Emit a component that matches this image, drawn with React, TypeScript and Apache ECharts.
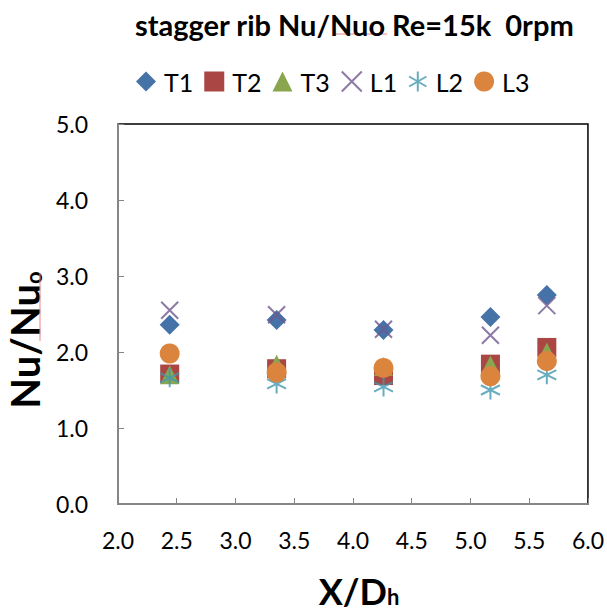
import React, { useEffect, useRef } from "react";
import * as echarts from "echarts";

// X/Dh stations shared by every series
const xStations = [2.44, 3.35, 4.26, 5.17, 5.65];

// Nu/Nuo per series at each station
const t1Values = [2.36, 2.42, 2.29, 2.46, 2.75];
const t2Values = [1.71, 1.78, 1.69, 1.84, 2.06];
const t3Values = [1.7, 1.84, 1.81, 1.83, 2.0];
const l1Values = [2.55, 2.49, 2.3, 2.22, 2.61];
const l2Values = [1.66, 1.58, 1.54, 1.5, 1.7];
const l3Values = [1.98, 1.73, 1.79, 1.68, 1.88];

const seriesNames = ["T1", "T2", "T3", "L1", "L2", "L3"];
const seriesValues = [t1Values, t2Values, t3Values, l1Values, l2Values, l3Values];
const seriesColors = ["#4572A7", "#AA4643", "#89A54E", "#71588F", "#4198AF", "#DB843D"];

const titleText = "stagger rib Nu/Nuo Re=15k  0rpm";

const FONT = "Lato, 'Open Sans', sans-serif";

const crossPath = "path://M0,0L10,10M10,0L0,10";
const starPath = "path://M5,0L5,10M0.67,2.5L9.33,7.5M0.67,7.5L9.33,2.5";

const symbols = ["diamond", "rect", "triangle", crossPath, starPath, "circle"];
const symbolSizes = [20, 19, 19, 17, 19, 20];

export default function App() {
  const ref = useRef<HTMLDivElement>(null);

  useEffect(() => {
    if (!ref.current) return;
    const chart = echarts.init(ref.current, undefined, { renderer: "svg" });

    const series = seriesNames.map((name, i) => {
      const stroked = i === 3 || i === 4;
      return {
        name,
        type: "scatter",
        symbol: symbols[i],
        symbolSize: symbolSizes[i],
        data: xStations.map((x, k) => [x, seriesValues[i][k]]),
        itemStyle: stroked
          ? { color: seriesColors[i], borderColor: seriesColors[i], borderWidth: 2 }
          : { color: seriesColors[i], opacity: 1 },
        z: 2 + i,
      };
    });

    chart.setOption({
      animation: false,
      backgroundColor: "#fff",
      title: {
        text: titleText,
        left: 130,
        top: 5,
        textStyle: { fontFamily: FONT, fontWeight: "bold", fontSize: 29, color: "#000" },
      },
      legend: {
        data: seriesNames,
        left: 131,
        top: 64,
        itemWidth: 20,
        itemHeight: 20,
        itemGap: 11,
        textStyle: {
          fontFamily: FONT,
          fontSize: 25,
          color: "#000",
          padding: [0, 0, 0, 3],
        },
      },
      grid: {
        left: 118,
        top: 124,
        width: 470,
        height: 380,
        show: true,
        borderColor: "#000",
        borderWidth: 1.5,
        backgroundColor: "#fff",
      },
      xAxis: {
        type: "value",
        min: 2,
        max: 6,
        interval: 0.5,
        axisLine: { show: true, onZero: false, lineStyle: { color: "#868686", width: 2 } },
        axisTick: { show: true, inside: true, length: 6, lineStyle: { color: "#868686", width: 1 } },
        splitLine: { show: false },
        axisLabel: {
          margin: 24,
          fontFamily: FONT,
          fontSize: 23,
          color: "#000",
          formatter: (v: number) => v.toFixed(1),
        },
      },
      yAxis: {
        type: "value",
        min: 0,
        max: 5,
        interval: 1,
        axisLine: { show: true, onZero: false, lineStyle: { color: "#868686", width: 2 } },
        axisTick: { show: true, inside: true, length: 6, lineStyle: { color: "#868686", width: 1 } },
        splitLine: { show: false },
        axisLabel: {
          margin: 30,
          fontFamily: FONT,
          fontSize: 23,
          color: "#000",
          formatter: (v: number) => v.toFixed(1),
        },
      },
      graphic: [
        {
          type: "text",
          x: 25,
          y: 340,
          rotation: Math.PI / 2,
          style: {
            text: "{a|Nu/Nu}{b|o}",
            align: "center",
            verticalAlign: "middle",
            rich: {
              a: { fontFamily: FONT, fontWeight: "bold", fontSize: 40, fill: "#000" },
              b: { fontFamily: FONT, fontWeight: "bold", fontSize: 22, fill: "#000", padding: [16, 0, 0, 0] },
            },
          },
        },
        {
          type: "text",
          x: 359,
          y: 591,
          style: {
            text: "{a|X/D}{b|h}",
            align: "center",
            verticalAlign: "middle",
            rich: {
              a: { fontFamily: FONT, fontWeight: "bold", fontSize: 36, fill: "#000" },
              b: { fontFamily: FONT, fontWeight: "bold", fontSize: 22, fill: "#000", padding: [10, 0, 0, 0] },
            },
          },
        },
        {
          type: "line",
          shape: { x1: 333, y1: 34, x2: 387, y2: 34 },
          style: { stroke: "#f08080", lineWidth: 1 },
        },
        {
          type: "line",
          shape: { x1: 40, y1: 273, x2: 40, y2: 341 },
          style: { stroke: "#f08080", lineWidth: 1 },
        },
      ],
      series,
    });

    return () => chart.dispose();
  }, []);

  return (
    <div
      ref={ref}
      style={{ position: "absolute", left: 0, top: 0, width: 607, height: 613 }}
    />
  );
}
